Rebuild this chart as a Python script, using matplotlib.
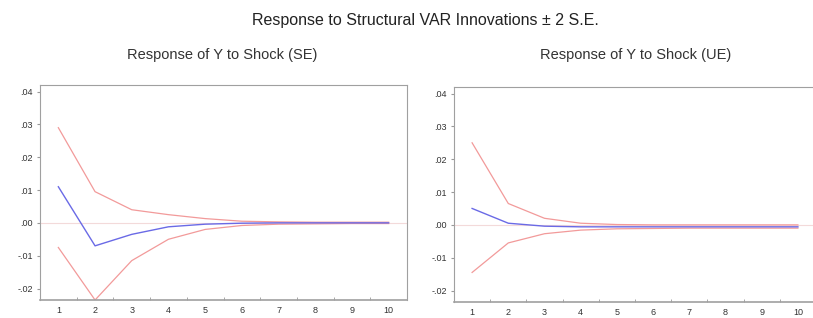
import matplotlib.pyplot as plt
from matplotlib.ticker import FixedLocator, FuncFormatter
import numpy as np

plt.rcParams["font.family"] = ["Liberation Sans", "DejaVu Sans"]

# Impulse response periods
periods = [1, 2, 3, 4, 5, 6, 7, 8, 9, 10]

# Response of Y to Shock (SE): point estimate and +/- 2 S.E. bands
se_resp = [0.011, -0.007, -0.0035, -0.0012, -0.0004, -0.0001, 0.0, 0.0, 0.0, 0.0]
se_upper = [0.029, 0.0095, 0.004, 0.0025, 0.0013, 0.0005, 0.0003, 0.0002, 0.0002, 0.0002]
se_lower = [-0.0075, -0.0235, -0.0115, -0.005, -0.002, -0.0008, -0.0004, -0.0003, -0.0002, -0.0002]

# Response of Y to Shock (UE)
ue_resp = [0.005, 0.0005, -0.0004, -0.0006, -0.0006, -0.0006, -0.0006, -0.0006, -0.0006, -0.0006]
ue_upper = [0.025, 0.0065, 0.002, 0.0005, 0.0001, 0.0, 0.0, 0.0, 0.0, 0.0]
ue_lower = [-0.0145, -0.0055, -0.0027, -0.0016, -0.0012, -0.0011, -0.001, -0.001, -0.001, -0.001]

y_ticks = [-0.02, -0.01, 0.0, 0.01, 0.02, 0.03, 0.04]

blue = "#6a6ae6"
red = "#f29a9a"


def fmt_tick(v, pos):
    s = f"{v:.2f}"
    return s.replace("0.", ".", 1)


def draw_panel(ax, resp, upper, lower):
    ax.axhline(0, color="#f3dada", lw=0.8, zorder=1)
    ax.plot(periods, upper, color=red, lw=0.9, zorder=2)
    ax.plot(periods, lower, color=red, lw=0.9, zorder=2)
    ax.plot(periods, resp, color=blue, lw=1.0, zorder=3)
    ax.set_xlim(0.5, 10.5)
    ax.set_ylim(-0.0235, 0.042)
    ax.set_xticks(periods)
    ax.xaxis.set_minor_locator(FixedLocator(np.arange(1.5, 10.5, 1.0)))
    ax.tick_params(axis="x", which="major", length=0, labelsize=6.5, pad=4, colors="#333333")
    ax.tick_params(axis="x", which="minor", length=2.5, direction="in", color="#999999")
    ax.set_yticks(y_ticks)
    ax.yaxis.set_major_formatter(FuncFormatter(fmt_tick))
    ax.tick_params(axis="y", length=2, direction="out", labelsize=6.5, pad=3,
                   color="#999999", labelcolor="#333333")
    for sp in ax.spines.values():
        sp.set_color("#a0a0a0")
        sp.set_linewidth(0.8)
    ax.spines["bottom"].set_linewidth(1.2)


fig = plt.figure(figsize=(8.13, 3.18), dpi=100)
W, H = 813, 318

ax1 = fig.add_axes([40 / W, 1 - 300 / H, 367 / W, 215 / H])
ax2 = fig.add_axes([454 / W, 1 - 302 / H, 362 / W, 215 / H])

draw_panel(ax1, se_resp, se_upper, se_lower)
draw_panel(ax2, ue_resp, ue_upper, ue_lower)

fig.text(425 / W, 1 - 20 / H, "Response to Structural VAR Innovations \u00b1 2 S.E.",
         ha="center", va="center", fontsize=11.5, color="#222222")
fig.text(222 / W, 1 - 55 / H, "Response of Y to Shock (SE)",
         ha="center", va="center", fontsize=10.5, color="#333333")
fig.text(636 / W, 1 - 55 / H, "Response of Y to Shock (UE)",
         ha="center", va="center", fontsize=10.5, color="#333333")

fig.savefig("out.png", dpi=100)
